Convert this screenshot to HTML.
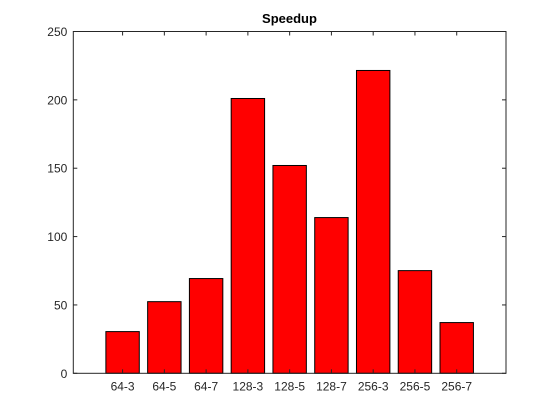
<!DOCTYPE html>
<html><head><meta charset="utf-8"><style>
body{margin:0;background:#fff;}
svg{display:block;font-family:"Liberation Sans",Arial,sans-serif;}
</style></head><body>
<svg id="chart" width="560" height="420" viewBox="0 0 560 420">
<rect x="0" y="0" width="560" height="420" fill="#fff"/>
<g id="bars"></g>
<g id="axes"></g>
<text x="289.5" y="23" text-anchor="middle" font-size="13" font-weight="bold" fill="#000">Speedup</text>
</svg>
<script>
const categories=["64-3","64-5","64-7","128-3","128-5","128-7","256-3","256-5","256-7"];
const values=[30.5,52.4,69.3,201,152,113.9,221.5,75.1,37.1];
const yTicks=[0,50,100,150,200,250];
const L=73.3,R=506,T=31.5,B=373.3;
const xmin=-0.18,xmax=10.18,ymax=250;
function xs(v){return L+(v-xmin)/(xmax-xmin)*(R-L);}
function ys(v){return B-v/ymax*(B-T);}
const NS="http://www.w3.org/2000/svg";
const bars=document.getElementById('bars'),axes=document.getElementById('axes');
function mk(tag,attrs,parent){const e=document.createElementNS(NS,tag);for(const k in attrs)e.setAttribute(k,attrs[k]);parent.appendChild(e);return e;}
const bw=0.8;
categories.forEach((c,i)=>{
  const x0=xs(i+1-bw/2),x1=xs(i+1+bw/2);
  const r=mk('rect',{x:x0,y:ys(values[i]),width:x1-x0,height:ys(0)-ys(values[i]),fill:'#ff0000',stroke:'#000','stroke-width':1},bars);
  
  
  const t=mk('text',{x:xs(i+1),y:B+17,'text-anchor':'middle','font-size':12,fill:'#262626'},axes);
  t.textContent=c;
  
  
  mk('line',{x1:xs(i+1),x2:xs(i+1),y1:B,y2:B-4,stroke:'#262626'},axes);
  mk('line',{x1:xs(i+1),x2:xs(i+1),y1:T,y2:T+4,stroke:'#262626'},axes);
});
yTicks.forEach(v=>{
  const y=ys(v);
  mk('line',{x1:L,x2:L+4,y1:y,y2:y,stroke:'#262626'},axes);
  mk('line',{x1:R,x2:R-4,y1:y,y2:y,stroke:'#262626'},axes);
  const t=mk('text',{x:L-6,y:y+4.5,'text-anchor':'end','font-size':12,fill:'#262626'},axes);
  t.textContent=v;
  
  
});
const box=mk('rect',{x:L,y:T,width:R-L,height:B-T,fill:'none',stroke:'#262626','stroke-width':1},axes);


</script>
</body></html>
